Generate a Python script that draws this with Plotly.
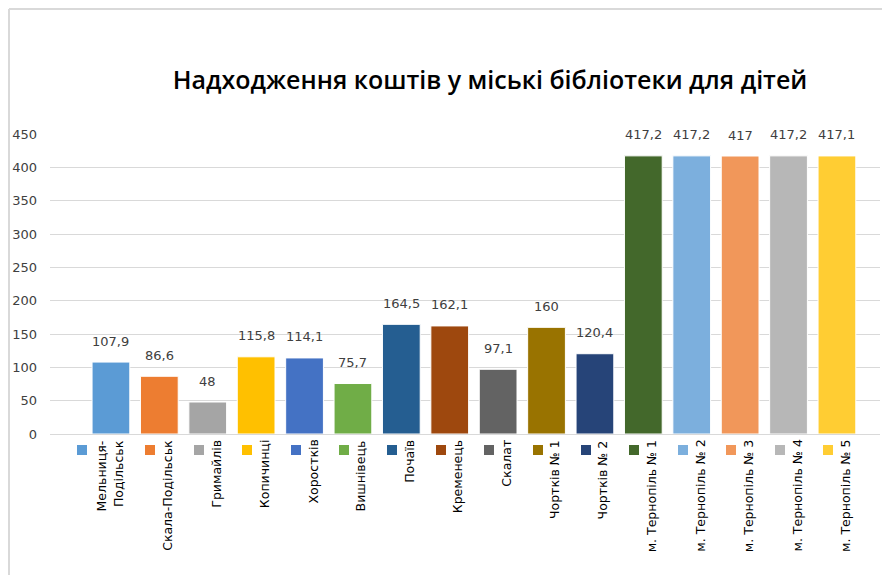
import plotly.graph_objects as go

categories = ["Мельниця-<br>Подільськ", "Скала-Подільськ", "Гримайлів", "Копичинці", "Хоростків",
              "Вишнівець", "Почаїв", "Кременець", "Скалат", "Чортків № 1", "Чортків № 2",
              "м. Тернопіль № 1", "м. Тернопіль № 2", "м. Тернопіль № 3", "м. Тернопіль № 4",
              "м. Тернопіль № 5"]
values = [107.9, 86.6, 48, 115.8, 114.1, 75.7, 164.5, 162.1, 97.1, 160, 120.4,
          417.2, 417.2, 417, 417.2, 417.1]
colors = ["#5B9BD5", "#ED7D31", "#A5A5A5", "#FFC000", "#4472C4", "#70AD47", "#255E91",
          "#9E480E", "#636363", "#997300", "#264478", "#43682B", "#7CAFDD", "#F1975A",
          "#B7B7B7", "#FFCD33"]
y_ticks = [0, 50, 100, 150, 200, 250, 300, 350, 400, 450]
title = "Надходження коштів у міські бібліотеки для дітей"

def fmt(v):
    s = ("%g" % v)
    return s.replace(".", ",")

xs = list(range(len(categories)))

fig = go.Figure()
fig.add_trace(go.Bar(
    x=xs, y=values, marker=dict(color=colors, line=dict(color="white", width=1)),
    width=0.78, hoverinfo="skip", showlegend=False,
))

annotations = []
for i, (c, v, col) in enumerate(zip(categories, values, colors)):
    annotations.append(dict(x=i, y=v, xref="x", yref="y", text=fmt(v), showarrow=False,
                            yanchor="middle", xanchor="center", yshift=21,
                            font=dict(family="DejaVu Sans", size=13, color="#404040")))
    two = "<br>" in c
    annotations.append(dict(x=i, y=0, xref="x", yref="y", text=c, showarrow=False,
                            textangle=-90, yanchor="top", xanchor="center",
                            yshift=-4, xshift=(-1 if two else 8), align="right",
                            font=dict(family="DejaVu Sans", size=12.5, color="#000000")))
    annotations.append(dict(x=i, y=0, xref="x", yref="y", text=" ", showarrow=False,
                            width=10, height=10, bgcolor=col, borderpad=0, borderwidth=0,
                            yanchor="middle", xanchor="center",
                            yshift=-16, xshift=(-29 if two else -9),
                            font=dict(size=1)))

fig.update_layout(
    width=882, height=567,
    margin=dict(l=42, r=10, t=126, b=141),
    paper_bgcolor="white", plot_bgcolor="white",
    title=dict(text=title, x=482 / 882, xref="container", xanchor="center",
               y=1 - 72 / 567, yref="container", yanchor="middle",
               font=dict(family="Open Sans", size=25, color="#000000", weight=600)),
    xaxis=dict(range=[-1.259, 15.89], showticklabels=False, showgrid=False,
               zeroline=False, showline=False, ticks="", automargin=False),
    yaxis=dict(range=[0, 450], tickvals=y_ticks, showgrid=True, gridcolor="#D9D9D9",
               gridwidth=1, zeroline=True, zerolinecolor="#D9D9D9", zerolinewidth=1,
               ticks="", ticklabelstandoff=12, automargin=False,
               tickfont=dict(family="DejaVu Sans", size=13, color="#404040")),
    annotations=annotations,
    shapes=[
        dict(type="line", xref="paper", yref="paper", x0=-41 / 830, x1=-41 / 830,
             y0=(300 + 125) / 300, y1=-160 / 300, line=dict(color="#D9D9D9", width=2)),
        dict(type="line", xref="paper", yref="paper", x0=-41 / 830, x1=850 / 830,
             y0=(300 + 125) / 300, y1=(300 + 125) / 300, line=dict(color="#D9D9D9", width=2)),
    ],
)

fig.write_html("out.html")
